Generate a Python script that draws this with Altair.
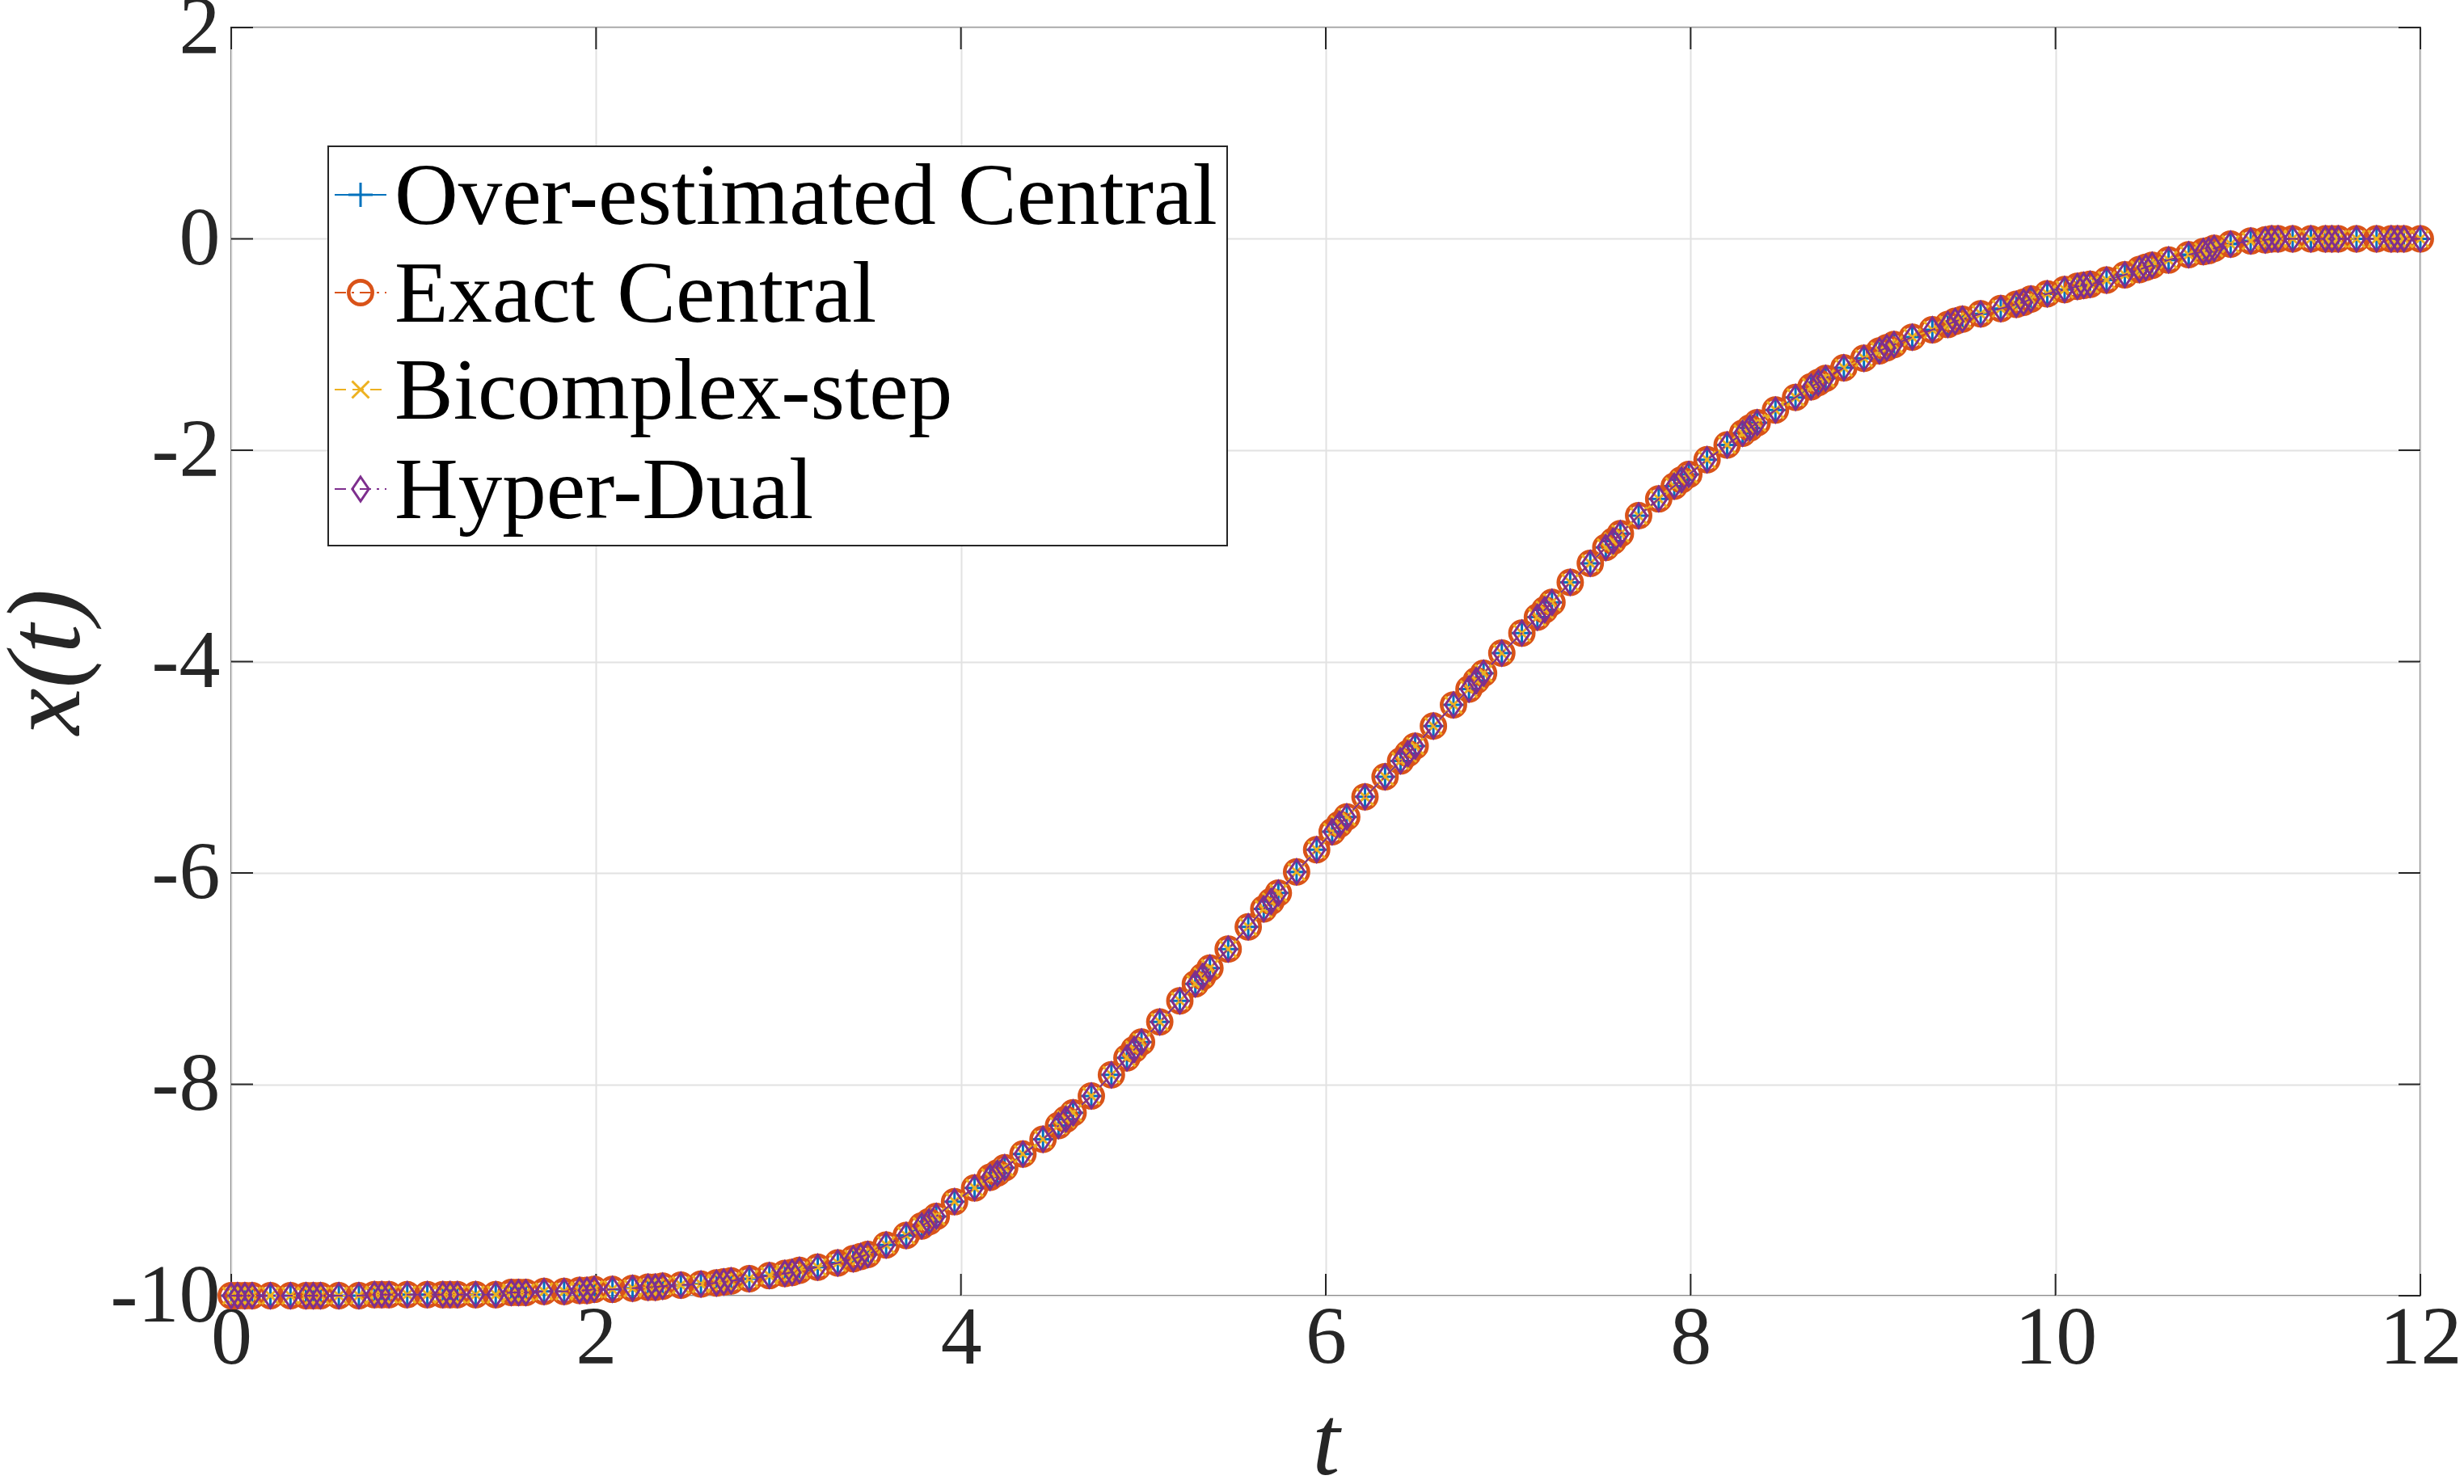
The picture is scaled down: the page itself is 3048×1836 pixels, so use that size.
import altair as alt
import pandas as pd

# ---- data ----
t_vals = [0.0, 0.035, 0.075, 0.115, 0.215, 0.325, 0.41, 0.45, 0.49, 0.59, 0.70,
          0.785, 0.825, 0.865, 0.965, 1.075, 1.16, 1.20, 1.24, 1.34, 1.45,
          1.535, 1.575, 1.615, 1.715, 1.825, 1.91, 1.95, 1.99, 2.09, 2.20,
          2.285, 2.325, 2.365, 2.465, 2.575, 2.66, 2.70, 2.74, 2.84, 2.95,
          3.035, 3.075, 3.115, 3.215, 3.325, 3.41, 3.45, 3.49, 3.59, 3.70,
          3.785, 3.825, 3.865, 3.965, 4.075, 4.16, 4.20, 4.24, 4.34, 4.45,
          4.535, 4.575, 4.615, 4.715, 4.825, 4.91, 4.95, 4.99, 5.09, 5.20,
          5.285, 5.325, 5.365, 5.465, 5.575, 5.66, 5.70, 5.74, 5.84, 5.95,
          6.035, 6.075, 6.115, 6.215, 6.325, 6.41, 6.45, 6.49, 6.59, 6.70,
          6.785, 6.825, 6.865, 6.965, 7.075, 7.16, 7.20, 7.24, 7.34, 7.45,
          7.535, 7.575, 7.615, 7.715, 7.825, 7.91, 7.95, 7.99, 8.09, 8.20,
          8.285, 8.325, 8.365, 8.465, 8.575, 8.66, 8.70, 8.74, 8.84, 8.95,
          9.035, 9.075, 9.115, 9.215, 9.325, 9.41, 9.45, 9.49, 9.59, 9.70,
          9.785, 9.825, 9.865, 9.955, 10.05,
          10.12, 10.155, 10.19, 10.28, 10.38, 10.46, 10.495, 10.53, 10.62, 10.73,
          10.81, 10.84, 10.87, 10.96, 11.07,
          11.15, 11.185, 11.22, 11.30, 11.40, 11.48, 11.515, 11.55, 11.65, 11.76,
          11.84, 11.875, 11.91, 12.0]

x_vals = [-10.00, -10.00, -10.00, -10.00, -10.00, -10.00, -10.00, -10.00, -10.00, -10.00, -10.00,
          -9.99, -9.99, -9.99, -9.99, -9.99, -9.99, -9.99, -9.99, -9.99, -9.99,
          -9.97, -9.97, -9.97, -9.96, -9.96, -9.95, -9.95, -9.94, -9.94, -9.93,
          -9.92, -9.92, -9.91, -9.90, -9.89, -9.88, -9.87, -9.86, -9.84, -9.81,
          -9.79, -9.78, -9.76, -9.73, -9.69, -9.65, -9.63, -9.61, -9.52, -9.43,
          -9.34, -9.30, -9.25, -9.11, -8.98, -8.88, -8.84, -8.79, -8.66, -8.52,
          -8.39, -8.33, -8.27, -8.11, -7.91, -7.75, -7.67, -7.60, -7.41, -7.21,
          -7.05, -6.98, -6.90, -6.72, -6.51, -6.34, -6.27, -6.19, -5.99, -5.78,
          -5.61, -5.54, -5.47, -5.28, -5.09, -4.94, -4.87, -4.80, -4.61, -4.41,
          -4.26, -4.18, -4.11, -3.92, -3.73, -3.58, -3.51, -3.44, -3.25, -3.07,
          -2.92, -2.86, -2.79, -2.62, -2.46, -2.34, -2.28, -2.23, -2.09, -1.95,
          -1.84, -1.79, -1.74, -1.62, -1.50, -1.40, -1.36, -1.32, -1.22, -1.13,
          -1.06, -1.03, -1.00, -0.93, -0.86, -0.81, -0.78, -0.76, -0.71, -0.66,
          -0.62, -0.60, -0.57, -0.52, -0.48,
          -0.45, -0.44, -0.43, -0.39, -0.34, -0.29, -0.27, -0.25, -0.20, -0.15,
          -0.12, -0.11, -0.09, -0.05, -0.02,
          -0.01, 0.0, 0.0, 0.0, 0.0, 0.0, 0.0, 0.0, 0.0, 0.0,
          0.0, 0.0, 0.0, 0.0]

assert len(t_vals) == len(x_vals)

series_names = ["Over-estimated Central", "Exact Central", "Bicomplex-step", "Hyper-Dual"]
series_colors = ["#0072BD", "#D95319", "#EDB120", "#7E2F8E"]
series_shapes = ["M-1,0L1,0M0,-1L0,1",
                 "circle",
                 "M-0.7,-0.7L0.7,0.7M-0.7,0.7L0.7,-0.7",
                 "M0,-1L0.68,0L0,1L-0.68,0Z"]
series_dash = [None, [14, 7, 3, 7], [14, 8], [14, 7, 3, 7]]
series_msize = [900, 860, 900, 900]
series_msw = [3.0, 4.6, 3.0, 3.0]

x_ticks = [0, 2, 4, 6, 8, 10, 12]
y_ticks = [-10, -8, -6, -4, -2, 0, 2]

W, H = 2708, 1569
TICK = 27
AX = "#262626"
FONT = "Times New Roman, Liberation Serif, Tinos, serif"
LABEL_EXPR = "datum.value < 0 ? '-' + format(-datum.value, 'd') : format(datum.value, 'd')"

df = pd.DataFrame({"t": t_vals, "x": x_vals})
xs = alt.Scale(domain=[0, 12], nice=False, zero=False)
ys = alt.Scale(domain=[-10, 2], nice=False, zero=False)

axis_x = alt.Axis(values=x_ticks, title="t", grid=True, gridColor="#e2e2e2", gridWidth=2,
                  domain=False, ticks=False, tickSize=0, labelPadding=2,
                  labelFont=FONT, labelFontSize=102, labelColor=AX, labelFlush=False,
                  labelOverlap=False, labelExpr=LABEL_EXPR,
                  titleFont=FONT, titleFontSize=122, titleFontStyle="italic",
                  titleFontWeight="normal", titleColor=AX,
                  titleX=W / 2, titleY=220, titleAlign="center", titleBaseline="alphabetic")
axis_y = alt.Axis(values=y_ticks, title="x(t)", grid=True, gridColor="#e2e2e2", gridWidth=2,
                  domain=False, ticks=False, tickSize=0, labelPadding=14,
                  labelFont=FONT, labelFontSize=102, labelColor=AX, labelFlush=False,
                  labelOverlap=False, labelExpr=LABEL_EXPR,
                  titleFont=FONT, titleFontSize=130, titleFontStyle="italic",
                  titleFontWeight="normal", titleColor=AX, titleAngle=270,
                  titleX=-228, titleY=H / 2, titleAlign="center", titleBaseline="middle")

X = alt.X("t:Q", scale=xs, axis=axis_x)
Y = alt.Y("x:Q", scale=ys, axis=axis_y)

layers = []

# inward tick marks (MATLAB style, box on)
xt = pd.DataFrame({"t": x_ticks})
yt = pd.DataFrame({"x": y_ticks})
layers.append(alt.Chart(xt).mark_rule(color=AX, strokeWidth=2).encode(
    x=X, y=alt.value(H - TICK), y2=alt.value(H)))
layers.append(alt.Chart(xt).mark_rule(color=AX, strokeWidth=2).encode(
    x=X, y=alt.value(0), y2=alt.value(TICK)))
layers.append(alt.Chart(yt).mark_rule(color=AX, strokeWidth=2).encode(
    y=Y, x=alt.value(0), x2=alt.value(TICK)))
layers.append(alt.Chart(yt).mark_rule(color=AX, strokeWidth=2).encode(
    y=Y, x=alt.value(W - TICK), x2=alt.value(W)))

# series
for name, color, shape, dash, msz, msw in zip(series_names, series_colors, series_shapes,
                                              series_dash, series_msize, series_msw):
    lkw = dict(color=color, strokeWidth=2)
    if dash:
        lkw["strokeDash"] = dash
    layers.append(alt.Chart(df).mark_line(**lkw).encode(x=X, y=Y))
    layers.append(alt.Chart(df).mark_point(shape=shape, color=color, filled=False, size=msz,
                                           strokeWidth=msw, opacity=1).encode(x=X, y=Y))

# legend (box, line samples, markers, labels)
LX0, LX1, LY0, LY1 = 120, 1232, 147, 641
row_y = [207, 328, 448, 571]
one = pd.DataFrame({"a": [0]})
layers.append(alt.Chart(one).mark_rect(fill="white", stroke=AX, strokeWidth=2).encode(
    x=alt.value(LX0), x2=alt.value(LX1), y=alt.value(LY0), y2=alt.value(LY1)))
for name, color, shape, dash, msz, msw, ry in zip(series_names, series_colors, series_shapes,
                                                  series_dash, series_msize, series_msw, row_y):
    lab = pd.DataFrame({"label": [name]})
    rkw = dict(color=color, strokeWidth=2)
    if dash:
        rkw["strokeDash"] = dash
    layers.append(alt.Chart(lab).mark_rule(**rkw).encode(
        x=alt.value(128), x2=alt.value(192), y=alt.value(ry)))
    layers.append(alt.Chart(lab).mark_point(shape=shape, color=color, filled=False, size=msz,
                                            strokeWidth=msw, opacity=1).encode(
        x=alt.value(160), y=alt.value(ry)))
    layers.append(alt.Chart(lab).mark_text(font=FONT, fontSize=109, align="left",
                                           baseline="alphabetic", color="black").encode(
        x=alt.value(202), y=alt.value(ry + 36), text="label:N"))

chart = alt.layer(*layers).properties(
    width=W, height=H, autosize="none",
    padding={"left": 286, "top": 34, "right": 54, "bottom": 233},
    background="white",
).configure_view(stroke=AX, strokeWidth=2).configure_axis(
    labelFont=FONT, titleFont=FONT
).configure_text(font=FONT)

chart.save("out.html", embed_options={"renderer": "svg", "actions": False})
